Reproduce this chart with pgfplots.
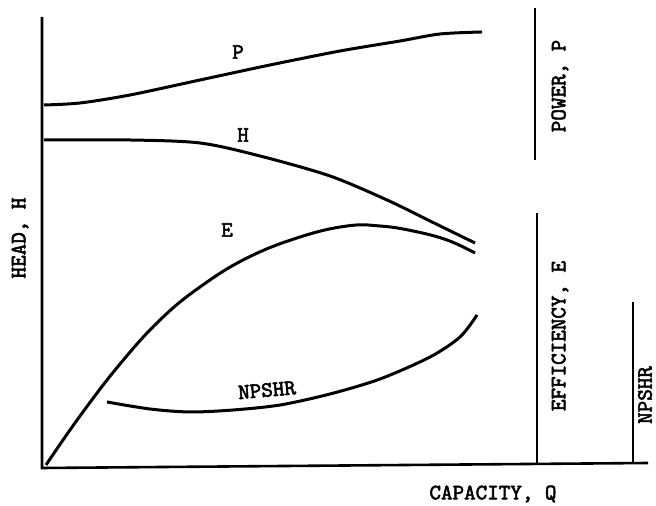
\documentclass[border=0pt]{standalone}
\usepackage{fontspec}
\setmonofont{lmmono10-regular.otf}[BoldFont=lmmono10-regular.otf, BoldFeatures={FakeBold=2.5}]
\usepackage{pgfplots}
\pgfplotsset{compat=1.18}
\tikzset{lbl/.style={font=\fontsize{11}{13}\selectfont\ttfamily\bfseries, inner sep=0pt}}
\begin{document}
\begin{tikzpicture}
\begin{axis}[
  scale only axis, width=328pt, height=253pt,
  xmin=0, xmax=656, ymin=0, ymax=506,
  hide axis, clip=false,
]
% axes
\addplot[black, line width=1.3pt] coordinates {(42,489) (42,38) (648,43)};
\addplot[black, line width=1pt] coordinates {(535,498) (535,346)};
\addplot[black, line width=1pt] coordinates {(537,293) (537,42)};
\addplot[black, line width=1pt] coordinates {(633,204) (633,43)};
% P
\addplot[black, line width=1.5pt, smooth] coordinates {
 (44,401) (80,403) (130,411) (200,426) (270,441) (340,455) (400,465) (440,472) (482,474)};
% H
\addplot[black, line width=1.5pt, smooth] coordinates {
 (44,366) (130,366) (200,363) (260,350) (330,330) (387,306) (430,285) (475,263)};
% E
\addplot[black, line width=1.5pt, smooth, tension=0.7] coordinates {
 (46,41) (80,90) (120,142) (160,186) (200,219) (247,248) (300,269) (347,280)
 (380,280) (413,275) (447,266) (475,253)};
% NPSHR
\addplot[black, line width=1.5pt, smooth] coordinates {
 (107,104) (150,97) (190,94) (233,96) (280,101) (330,112) (380,127) (430,149) (460,169) (477,191)};
\node[lbl] at (axis cs:238,454) {P};
\node[lbl] at (axis cs:243,371) {H};
\node[lbl] at (axis cs:227,276) {E};
\node[lbl, rotate=5] at (axis cs:267,116) {NPSHR};
\node[lbl, rotate=90] at (axis cs:20,268) {HEAD, H};
\node[lbl, rotate=90] at (axis cs:560,420) {POWER, P};
\node[lbl, rotate=90] at (axis cs:560,170) {EFFICIENCY, E};
\node[lbl, rotate=90] at (axis cs:645,111) {NPSHR};
\node[lbl] at (axis cs:493,12) {CAPACITY, Q};
\end{axis}
\pgfresetboundingbox
\path[use as bounding box] (current axis.south west) rectangle (current axis.north east);
\end{tikzpicture}
\end{document}
